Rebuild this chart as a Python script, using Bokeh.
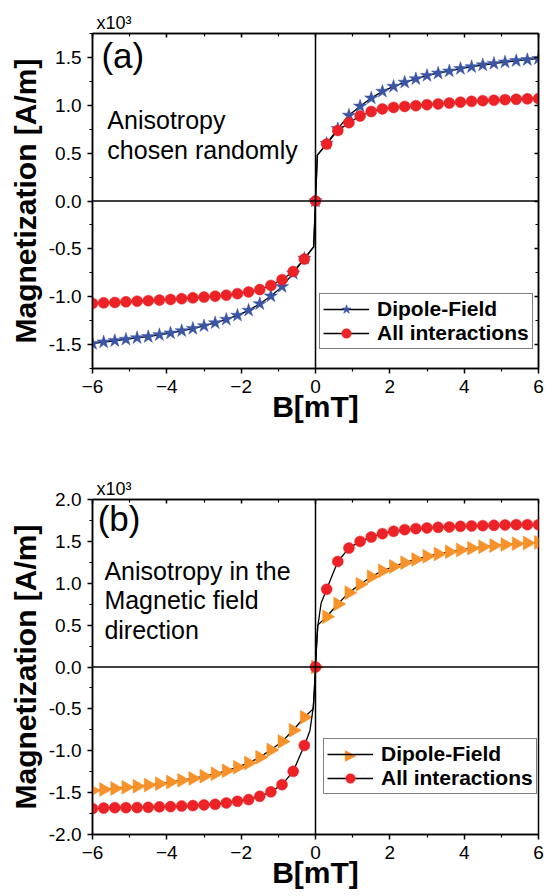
import numpy as np
from bokeh.plotting import figure
from bokeh.models import (Span, Label, Legend, LegendItem, LinearAxis, FixedTicker,
                          Range1d, PrintfTickFormatter, Title, CustomJSTickFormatter)
from bokeh.layouts import column
from bokeh.embed import file_html
from bokeh.resources import INLINE

FONT = "Liberation Sans"

# ---------------- data ----------------
B = [-6.0, -5.7, -5.4, -5.1, -4.8, -4.5, -4.2, -3.9, -3.6, -3.3, -3.0, -2.7, -2.4, -2.1,
     -1.8, -1.5, -1.2, -0.9, -0.6, -0.3, 0.0, 0.3, 0.6, 0.9, 1.2, 1.5, 1.8, 2.1, 2.4,
     2.7, 3.0, 3.3, 3.6, 3.9, 4.2, 4.5, 4.8, 5.1, 5.4, 5.7, 6.0]

# panel (a): anisotropy chosen randomly (x10^3 A/m)
a_dipole = [-1.49, -1.474, -1.46, -1.446, -1.43, -1.418, -1.398, -1.38, -1.356, -1.333,
            -1.305, -1.274, -1.237, -1.195, -1.142, -1.074, -0.993, -0.895, -0.755, -0.60,
            0.0,
            0.60, 0.755, 0.895, 0.99, 1.075, 1.145, 1.197, 1.24, 1.276, 1.31,
            1.335, 1.357, 1.383, 1.402, 1.421, 1.436, 1.451, 1.465, 1.476, 1.487]
a_all = [-1.07, -1.064, -1.06, -1.053, -1.047, -1.042, -1.035, -1.028, -1.021, -1.012,
         -1.004, -0.994, -0.984, -0.968, -0.95, -0.925, -0.882, -0.822, -0.737, -0.607,
         0.0,
         0.595, 0.737, 0.818, 0.888, 0.935, 0.962, 0.978, 0.988, 0.996, 1.006,
         1.014, 1.024, 1.033, 1.041, 1.048, 1.053, 1.059, 1.063, 1.067, 1.07]
# extra line-only points near B = 0
a_dipole_knee_B = [-0.05, 0.05]
a_dipole_knee_M = [-0.48, 0.48]
a_all_knee_B = [-0.05, 0.05]
a_all_knee_M = [-0.48, 0.48]

# panel (b): anisotropy in the magnetic field direction
b_dipole = [-1.475, -1.462, -1.45, -1.437, -1.424, -1.41, -1.393, -1.374, -1.352, -1.33,
            -1.305, -1.276, -1.24, -1.196, -1.145, -1.078, -0.99, -0.89, -0.755, -0.60,
            0.0,
            0.60, 0.752, 0.888, 0.988, 1.078, 1.148, 1.2, 1.245, 1.285, 1.322,
            1.35, 1.375, 1.398, 1.418, 1.435, 1.45, 1.462, 1.472, 1.48, 1.488]
b_all = [-1.69, -1.685, -1.68, -1.68, -1.678, -1.675, -1.67, -1.667, -1.66, -1.655,
         -1.647, -1.64, -1.623, -1.603, -1.583, -1.544, -1.49, -1.405, -1.246, -0.937,
         0.0,
         0.928, 1.26, 1.42, 1.5, 1.552, 1.592, 1.62, 1.64, 1.652, 1.66,
         1.668, 1.672, 1.68, 1.684, 1.688, 1.692, 1.696, 1.70, 1.70, 1.70]
b_dipole_knee_B = [-0.06, 0.06]
b_dipole_knee_M = [-0.5, 0.5]
b_all_knee_B = [-0.15, -0.06, -0.03, 0.03, 0.06, 0.15]
b_all_knee_M = [-0.76, -0.48, -0.28, 0.28, 0.48, 0.76]

x_ticks = [-6, -4, -2, 0, 2, 4, 6]
x_minor = [-5, -3, -1, 1, 3, 5]
a_y_ticks = [-1.5, -1.0, -0.5, 0.0, 0.5, 1.0, 1.5]
a_y_minor = [-1.75, -1.25, -0.75, -0.25, 0.25, 0.75, 1.25, 1.75]
b_y_ticks = [-2.0, -1.5, -1.0, -0.5, 0.0, 0.5, 1.0, 1.5, 2.0]
b_y_minor = [-1.75, -1.25, -0.75, -0.25, 0.25, 0.75, 1.25, 1.75]

BLUE = "#3b55a5"
RED = "#ec2227"
ORANGE = "#f7922a"


def merged(xs, ys, kx, ky):
    pts = sorted(list(zip(xs, ys)) + list(zip(kx, ky)))
    return [p[0] for p in pts], [p[1] for p in pts]


def style_axis(ax, tick_out, tick_in, labels=True):
    ax.axis_line_width = 1.5
    ax.axis_line_color = "black"
    ax.major_tick_line_width = 1.5
    ax.minor_tick_line_width = 1.2
    ax.major_tick_out = tick_out
    ax.major_tick_in = tick_in
    ax.minor_tick_out = 3 if tick_out else 0
    ax.minor_tick_in = 3 if tick_in else 0
    if labels:
        ax.major_label_text_font = FONT
        ax.major_label_text_font_size = "19px"
        ax.major_label_text_color = "black"
        ax.major_label_standoff = 6
    else:
        ax.formatter = CustomJSTickFormatter(code="return ''")
        ax.major_label_text_font_size = "0px"
        ax.major_label_standoff = 0


def panel(height, borders, yr, yt, ym, series, leg_loc, tag, tag_xy, lines, lines_xy,
          exp_standoff, tri_xy=None, right_axis=True):
    bl, br, bt, bb = borders
    p = figure(width=547, height=height, output_backend="svg", toolbar_location=None,
               x_range=Range1d(-6, 6), y_range=Range1d(*yr),
               min_border_left=bl, min_border_right=br, min_border_top=bt,
               min_border_bottom=bb)
    p.grid.visible = False
    p.outline_line_color = "black"
    p.outline_line_width = 1.5
    p.background_fill_color = "white"
    p.border_fill_color = "white"

    p.xaxis.ticker = FixedTicker(ticks=x_ticks, minor_ticks=x_minor)
    p.yaxis.ticker = FixedTicker(ticks=yt, minor_ticks=ym)
    p.yaxis.formatter = PrintfTickFormatter(format="%.1f")
    style_axis(p.xaxis[0], 5, 0)
    style_axis(p.yaxis[0], 5, 0)
    p.xaxis.axis_label = "B[mT]"
    p.yaxis.axis_label = "Magnetization [A/m]"
    for ax in (p.xaxis[0], p.yaxis[0]):
        ax.axis_label_text_font = FONT
        ax.axis_label_text_font_style = "bold"
        ax.axis_label_text_font_size = "30px"
        ax.axis_label_text_color = "black"
    p.xaxis.axis_label_standoff = -6
    p.yaxis.axis_label_standoff = 4

    top = LinearAxis(ticker=FixedTicker(ticks=x_ticks, minor_ticks=x_minor))
    style_axis(top, 0, 4, labels=False)
    p.add_layout(top, "above")
    if right_axis:
        right = LinearAxis(ticker=FixedTicker(ticks=yt, minor_ticks=ym))
        style_axis(right, 0, 4, labels=False)
        p.add_layout(right, "right")

    p.add_layout(Title(text="x10\u00b3", align="left", offset=4, text_font=FONT,
                       text_font_size="18px", text_font_style="normal",
                       text_color="black", standoff=exp_standoff), "above")

    p.add_layout(Span(location=0, dimension="width", line_color="black", line_width=1.5))
    p.add_layout(Span(location=0, dimension="height", line_color="black", line_width=1.5))

    if tri_xy is not None:
        # right-pointing triangle symbol for the legend entry (legend box is see-through)
        p.add_layout(Label(x=tri_xy[0], y=tri_xy[1], text="\u25b6", text_font="DejaVu Sans",
                           text_font_size="15px", text_color=ORANGE, text_align="center",
                           text_baseline="middle"))

    items = []
    for (label, ys, kx, ky, marker, color, size, angle, in_legend) in series:
        lx, ly = merged(B, ys, kx, ky)
        r_line = p.line(lx, ly, line_color="black", line_width=1.3)
        r_pts = p.scatter(B, ys, marker=marker, size=size, angle=angle,
                          fill_color=color, line_color=color, line_width=0.5)
        rends = [r_line, r_pts] if in_legend else [r_line]
        items.append(LegendItem(label=label, renderers=rends))

    leg = Legend(items=items, location=leg_loc)
    leg.border_line_color = "black"
    leg.border_line_width = 1.2
    leg.background_fill_color = "white"
    leg.background_fill_alpha = 1.0 if tri_xy is None else 0.0
    leg.label_text_font = FONT
    leg.label_text_font_style = "bold"
    leg.label_text_font_size = "21px"
    leg.label_text_color = "black"
    leg.glyph_width = 46
    leg.glyph_height = 24
    leg.label_height = 24
    leg.label_standoff = 8
    leg.spacing = 0
    leg.padding = 3
    leg.margin = 0
    p.add_layout(leg)

    p.add_layout(Label(x=tag_xy[0], y=tag_xy[1], text=tag, text_font=FONT,
                       text_font_size="35px", text_color="black"))
    for t, (lx_, ly_) in zip(lines, lines_xy):
        p.add_layout(Label(x=lx_, y=ly_, text=t, text_font=FONT,
                           text_font_size="25px", text_color="black"))
    return p


pa = panel(450, (91, 9, 33, 82), (-1.75, 1.75), a_y_ticks, a_y_minor,
           [("Dipole-Field", a_dipole, a_dipole_knee_B, a_dipole_knee_M, "star", BLUE, 14, 0.0, True),
            ("All interactions", a_all, a_all_knee_B, a_all_knee_M, "circle", RED, 11, 0.0, True)],
           (227, 19), "(a)", (-5.76, 1.317),
           ["Anisotropy", "chosen randomly"], [(-5.60, 0.70), (-5.60, 0.39)],
           2)

pb = panel(446, (92, 1, 49, 62), (-2.0, 2.0), b_y_ticks, b_y_minor,
           [("Dipole-Field", b_dipole, b_dipole_knee_B, b_dipole_knee_M, "triangle", ORANGE, 14, -np.pi / 2, False),
            ("All interactions", b_all, b_all_knee_B, b_all_knee_M, "circle", RED, 11, 0.0, True)],
           (231, 40), "(b)", (-5.86, 1.54),
           ["Anisotropy in the", "Magnetic field", "direction"],
           [(-5.68, 0.98), (-5.68, 0.63), (-5.68, 0.28)],
           1, tri_xy=(0.95, -1.05), right_axis=False)

layout = column(pa, pb, spacing=0)
open("out.html", "w").write(file_html(layout, INLINE))
